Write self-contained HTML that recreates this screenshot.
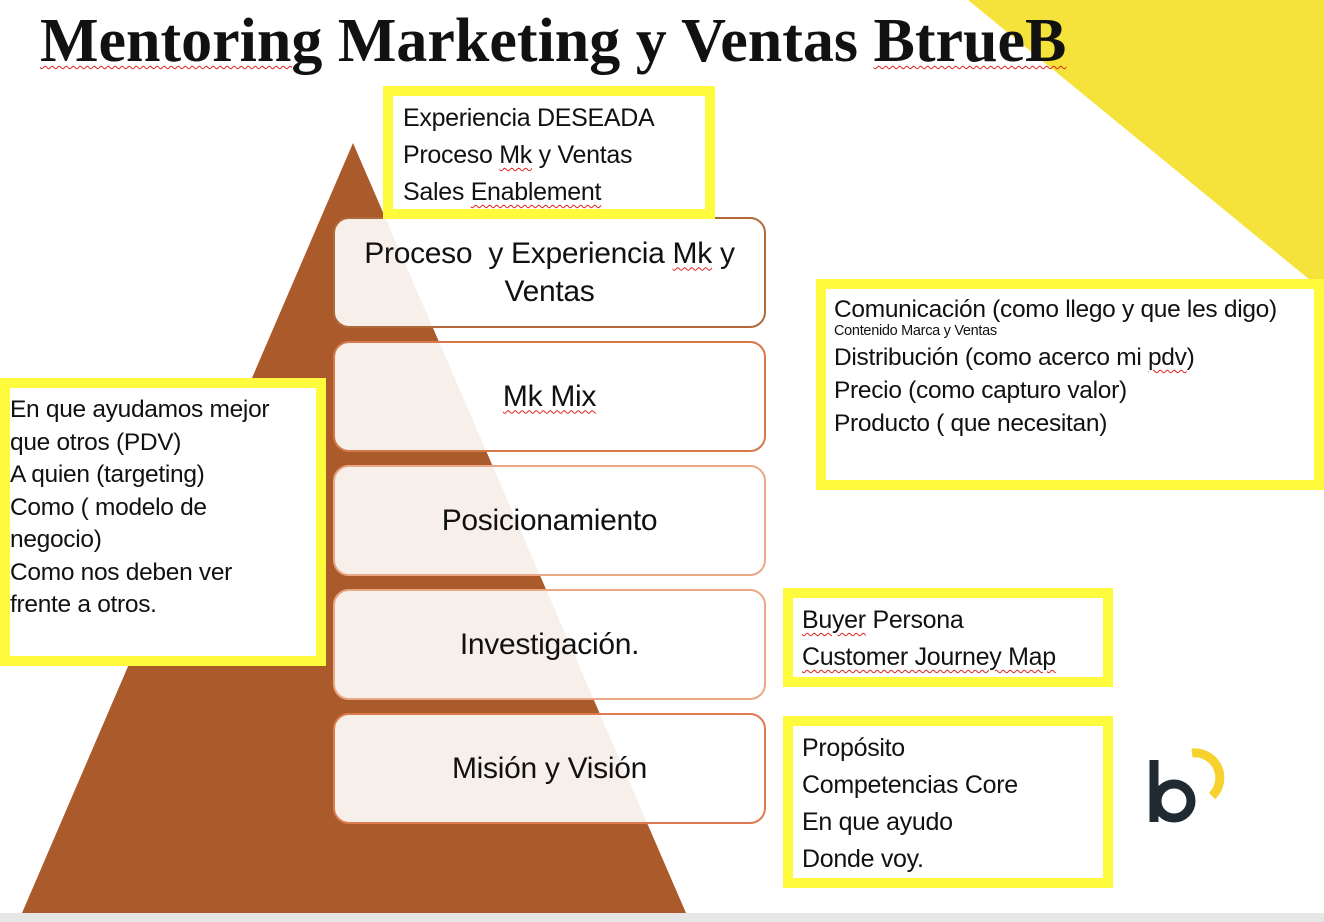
<!DOCTYPE html>
<html><head><meta charset="utf-8"><style>
*{margin:0;padding:0;box-sizing:border-box}
body{width:1324px;height:922px;position:relative;background:#fff;overflow:hidden;font-family:"Liberation Sans",sans-serif;color:#111}
.abs{position:absolute}
.title{left:40px;top:6px;font-family:"Liberation Serif",serif;font-weight:bold;font-size:62px;letter-spacing:0px;white-space:nowrap}
.box{position:absolute;left:333px;width:433px;height:111px;border-radius:16px;border:2px solid #c07040;background:rgba(255,255,255,0.9);display:flex;align-items:center;justify-content:center;text-align:center;font-size:30px;line-height:38px;letter-spacing:-0.3px}
.box>div{white-space:nowrap}
.y{position:absolute;border:10px solid #fdfb3c;background:#fff;font-size:25px;letter-spacing:-0.3px;white-space:nowrap}
.sq{text-decoration:underline wavy #e02020;text-decoration-thickness:1px;text-underline-offset:4px}
</style></head><body>
<svg class="abs" style="left:0;top:0" width="1324" height="922">
<polygon points="968,0 1324,0 1324,280 1310,280" fill="#f5e23a"/>
<polygon points="353,143 22,913 686,913" fill="#ab5b2b"/>
<rect x="0" y="913" width="1324" height="9" fill="#e6e6e6"/>
<path d="M1154,760 V822" stroke="#1f2a33" stroke-width="9"/>
<circle cx="1174" cy="801" r="17" fill="none" stroke="#1f2a33" stroke-width="9"/>
<path d="M1192,753 A25,25 0 0 1 1212,796" fill="none" stroke="#f7d22e" stroke-width="9"/>
</svg>
<div class="abs title"><span class="sq">Mentoring</span> Marketing y Ventas <span class="sq">BtrueB</span></div>

<div class="box" style="top:217px;border-color:#b06a3a"><div>Proceso &nbsp;y Experiencia <span class="sq">Mk</span> y<br>Ventas</div></div>
<div class="box" style="top:341px;border-color:#d4784a"><div><span class="sq">Mk Mix</span></div></div>
<div class="box" style="top:465px;border-color:#eaa886"><div>Posicionamiento</div></div>
<div class="box" style="top:589px;border-color:#eaa886"><div>Investigación.</div></div>
<div class="box" style="top:713px;border-color:#dd7a50"><div>Misión y Visión</div></div>

<div class="y" style="left:383px;top:86px;width:332px;height:133px;padding:4px 0 0 10px;line-height:37px">Experiencia DESEADA<br>Proceso <span class="sq">Mk</span> y Ventas<br>Sales <span class="sq">Enablement</span></div>
<div class="y" style="left:0;top:378px;width:326px;height:288px;padding:6px 0 0 0;line-height:32.5px;font-size:24.5px">En que ayudamos mejor<br>que otros (PDV)<br>A quien (targeting)<br>Como ( modelo de<br>negocio)<br>Como nos deben ver<br>frente a otros.</div>
<div class="y" style="left:816px;top:279px;width:508px;height:211px;padding:4px 0 0 8px;font-size:24.5px;line-height:33px">Comunicación (como llego y que les digo)<br><div style="font-size:14.5px;line-height:20px;margin-top:-5px">Contenido Marca y Ventas</div>Distribución (como acerco mi <span class="sq">pdv</span>)<br>Precio (como capturo valor)<br>Producto ( que necesitan)</div>
<div class="y" style="left:783px;top:588px;width:330px;height:99px;padding:4px 0 0 9px;line-height:37px"><span class="sq">Buyer</span> Persona<br><span class="sq">Customer Journey Map</span></div>
<div class="y" style="left:783px;top:716px;width:330px;height:172px;padding:4px 0 0 9px;line-height:37px">Propósito<br>Competencias Core<br>En que ayudo<br>Donde voy.</div>
</body></html>
